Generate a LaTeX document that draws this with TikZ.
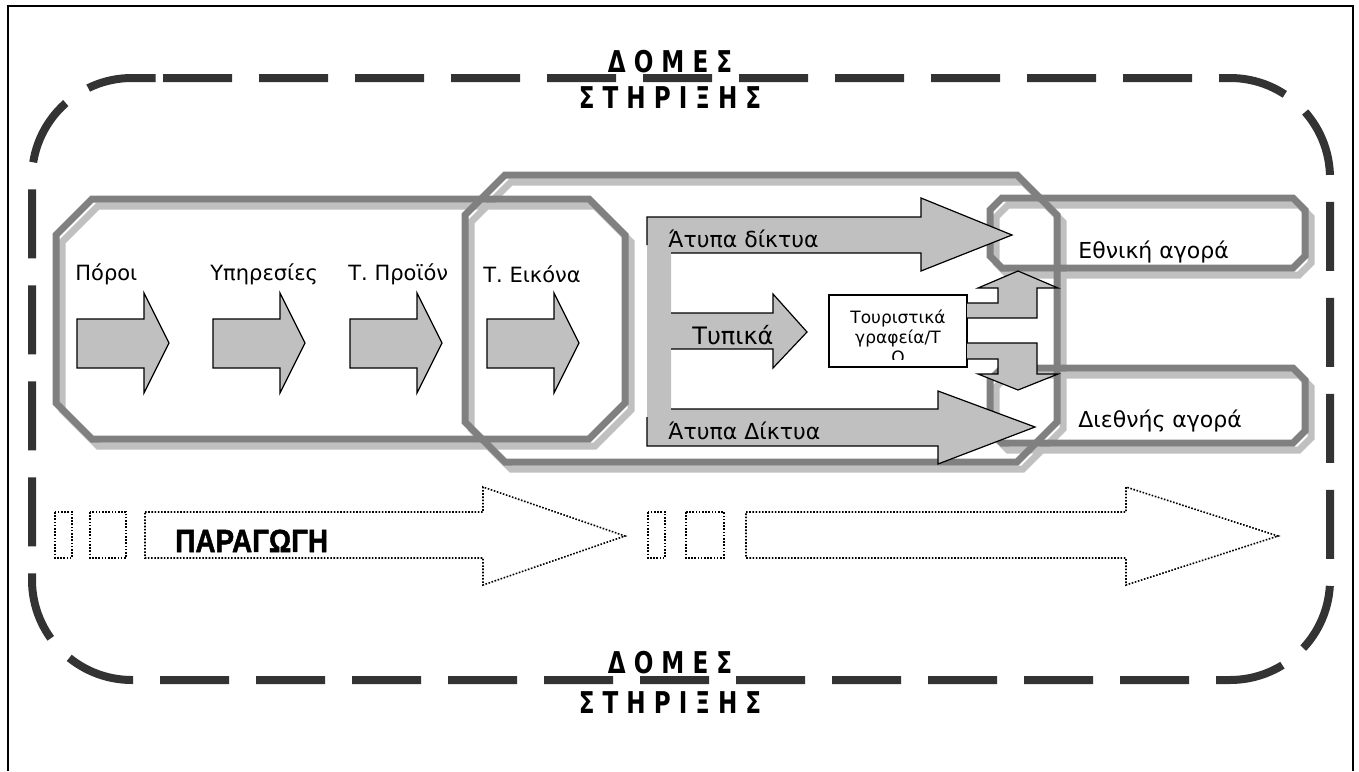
\documentclass[tikz,border=0pt]{standalone}
\usepackage{fontspec}
\setmainfont{DejaVu Sans}
\newfontfamily\prodfont{Liberation Sans}[BoldFeatures={FakeBold=1.6}]
\usetikzlibrary{calc}
\definecolor{framegray}{RGB}{51,51,51}
\definecolor{boxdark}{RGB}{128,128,128}
\definecolor{boxlight}{RGB}{192,192,192}
\definecolor{arrowgray}{RGB}{192,192,192}

\begin{document}
\begin{tikzpicture}[
  x=0.5pt, y=-0.5pt,
  every node/.style={inner sep=0pt, anchor=base west},
  supportline/.style={draw=framegray, line width=4pt, dash pattern=on 34.5pt off 13.5pt},
  supporttitle/.style={anchor=base, font=\bfseries\fontsize{15}{18}\selectfont, xscale=0.77},
  boxline/.style={draw=boxdark, line width=3.5pt},
  boxshadow/.style={draw=boxlight, line width=3.5pt, shift={(6,7)}},
  blockarrow/.style={fill=arrowgray, draw=black, line width=0.6pt},
  prodline/.style={draw=black, line width=0.8pt, dash pattern=on 0.8pt off 0.8pt},
  steplabel/.style={font=\fontsize{10.5}{12}\selectfont},
  channellabel/.style={font=\fontsize{11}{13}\selectfont}
]
\useasboundingbox (0,0) rectangle (1359,771);

% page frame and support structures
\draw[line width=1pt] (8,771) -- (8,6) -- (1353,6) -- (1353,771);
\draw[supportline, rounded corners=50pt] (163,78) -- (1330,78) -- (1330,680)
  -- (32,680) -- (32,78) -- (163,78);

\node[supporttitle] (toptitleA) at (670,72) {Δ Ο Μ Ε Σ};
\node[supporttitle] (toptitleB) at (670,108) {Σ Τ Η Ρ Ι Ξ Η Σ};
\node[supporttitle] (bottitleA) at (670,673) {Δ Ο Μ Ε Σ};
\node[supporttitle] (bottitleB) at (670,713) {Σ Τ Η Ρ Ι Ξ Η Σ};

% chamfered areas: shadows first, then the frames
\foreach \xa/\ya/\xb/\yb/\c in {56/199/625/439/36, 465/175/1057/462/40,
    990/198/1305/268/12, 990/368/1305/443/12}
  \draw[boxshadow] ({\xa+\c},\ya) -- ({\xb-\c},\ya) -- (\xb,{\ya+\c})
    -- (\xb,{\yb-\c}) -- ({\xb-\c},\yb) -- ({\xa+\c},\yb) -- (\xa,{\yb-\c})
    -- (\xa,{\ya+\c}) -- cycle;
\foreach \xa/\ya/\xb/\yb/\c in {56/199/625/439/36, 465/175/1057/462/40,
    990/198/1305/268/12, 990/368/1305/443/12}
  \draw[boxline] ({\xa+\c},\ya) -- ({\xb-\c},\ya) -- (\xb,{\ya+\c})
    -- (\xb,{\yb-\c}) -- ({\xb-\c},\yb) -- ({\xa+\c},\yb) -- (\xa,{\yb-\c})
    -- (\xa,{\ya+\c}) -- cycle;

% production chain
\node[steplabel] (resources) at (75,280) {Πόροι};
\node[steplabel] (services) at (210,280) {Υπηρεσίες};
\node[steplabel] (product) at (348,280) {Τ. Προϊόν};
\node[steplabel] (image) at (483,282) {Τ. Εικόνα};
\foreach \x in {77,213,350,487}
  \draw[blockarrow] (\x,319) -- ({\x+67},319) -- ({\x+67},293) -- ({\x+92},343)
    -- ({\x+67},393) -- ({\x+67},368) -- (\x,368) -- cycle;

% distribution fork
\fill[arrowgray] (647,217) -- (921,217) -- (921,198) -- (1012,235) -- (921,271)
  -- (921,253) -- (671,253) -- (671,313) -- (773,313) -- (773,294) -- (807,332)
  -- (773,368) -- (773,349) -- (671,349) -- (671,409) -- (938,409) -- (938,391)
  -- (1035,427) -- (938,464) -- (938,446) -- (647,446) -- cycle;
\draw[line width=0.6pt] (647,245) -- (647,217) -- (921,217) -- (921,198)
  -- (1012,235) -- (921,271) -- (921,253) -- (671,253);
\draw[line width=0.6pt] (671,313) -- (773,313) -- (773,294) -- (807,332)
  -- (773,368) -- (773,349) -- (671,349);
\draw[line width=0.6pt] (671,409) -- (938,409) -- (938,391) -- (1035,427)
  -- (938,464) -- (938,446) -- (647,446) -- (647,417);

\node[channellabel] (informalA) at (668,247) {Άτυπα δίκτυα};
\node[font=\fontsize{12}{14}\selectfont] (formal) at (692,344) {Τυπικά};
\node[channellabel] (informalB) at (668,439) {Άτυπα Δίκτυα};

% tour operators
\node[draw, fill=white, line width=0.6pt, anchor=center,
  minimum width=69pt, minimum height=36pt] (office) at (898,331) {};
\begin{scope}
  \clip (831,297) rectangle (965,359);
  \node[font=\fontsize{8.5}{10}\selectfont, align=center, anchor=base]
    (officetext) at (898,363) {Τουριστικά\\γραφεία/Τ\\Ο};
\end{scope}
\draw[blockarrow] (967,303) -- (998,303) -- (998,288) -- (978,288) -- (1018,271)
  -- (1058,288) -- (1037,288) -- (1037,318) -- (967,318);
\draw[blockarrow] (967,343) -- (1037,343) -- (1037,374) -- (1058,374) -- (1018,390)
  -- (978,374) -- (998,374) -- (998,359) -- (967,359);

% markets
\node[channellabel] (national) at (1078,258) {Εθνική αγορά};
\node[channellabel] (international) at (1078,427) {Διεθνής αγορά};

% production row
\draw[prodline] (55,512) rectangle (72,558);
\draw[prodline] (90,512) rectangle (126,558);
\draw[prodline] (145,512) -- (483,512) -- (483,487) -- (625,536) -- (483,585)
  -- (483,558) -- (145,558) -- cycle;
\draw[prodline] (648,512) rectangle (665,558);
\draw[prodline] (686,512) rectangle (724,558);
\draw[prodline] (746,512) -- (1126,512) -- (1126,487) -- (1278,536) -- (1126,585)
  -- (1126,558) -- (746,558) -- cycle;
\node[font=\prodfont\bfseries\fontsize{16}{18}\selectfont, xscale=0.87]
  (production) at (175,552) {ΠΑΡΑΓΩΓΗ};

\end{tikzpicture}
\end{document}
